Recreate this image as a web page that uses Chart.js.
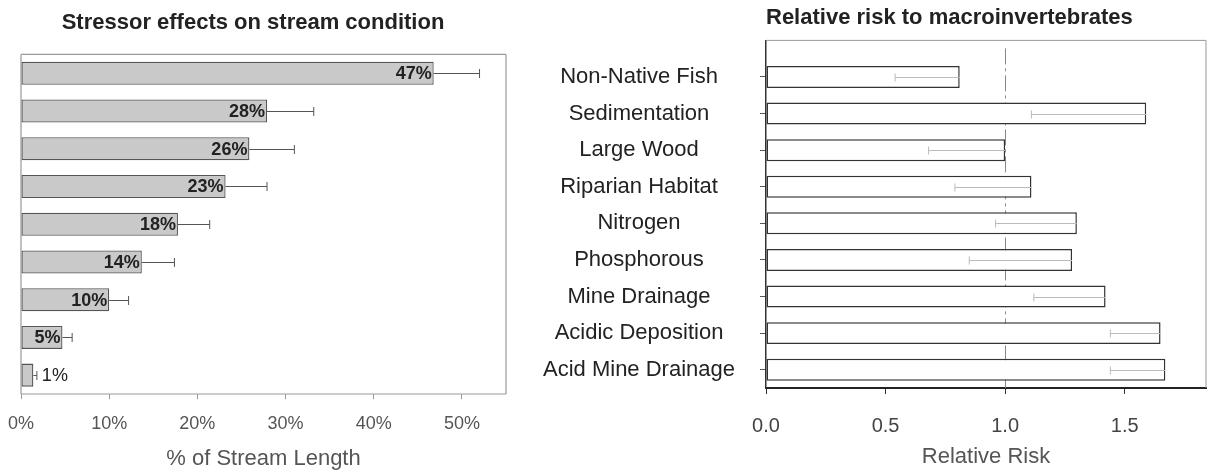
<!DOCTYPE html>
<html>
<head>
<meta charset="utf-8">
<script src="https://cdn.jsdelivr.net/npm/chart.js@4.4.1/dist/chart.umd.min.js"></script>
<style>
body { margin: 0; background: #fff; width: 1208px; height: 472px; overflow: hidden; position: relative; }
canvas { position: absolute; top: 0; }
#lengthChart { left: 0; }
#riskChart { left: 520px; }
</style>
</head>
<body>
<canvas id="lengthChart" width="526" height="472"></canvas>
<canvas id="riskChart" width="688" height="472"></canvas>
<script>
// left panel: % of stream length in poor condition per stressor
var stressRows = ['r1', 'r2', 'r3', 'r4', 'r5', 'r6', 'r7', 'r8', 'r9'];
var stressPct = [46.8, 27.9, 25.9, 23.2, 17.8, 13.7, 10.0, 4.7, 1.4];
var stressUpper = [52.0, 33.2, 31.0, 27.9, 21.4, 17.4, 12.2, 5.8, 1.8];
var stressText = ['47%', '28%', '26%', '23%', '18%', '14%', '10%', '5%', '1%'];
var pctTicks = [0, 10, 20, 30, 40, 50];

// right panel: relative risk
var stressors = ['Non-Native Fish', 'Sedimentation', 'Large Wood', 'Riparian Habitat', 'Nitrogen',
                 'Phosphorous', 'Mine Drainage', 'Acidic Deposition', 'Acid Mine Drainage'];
var riskValue = [0.81, 1.59, 1.00, 1.11, 1.30, 1.28, 1.42, 1.65, 1.67];
var riskLower = [0.54, 1.11, 0.68, 0.79, 0.96, 0.85, 1.12, 1.44, 1.44];
var riskTicks = [0, 0.5, 1.0, 1.5];
var riskRef = 1.0;

var fontFam = "'Liberation Sans', Arial, sans-serif";
Chart.defaults.font.family = fontFam;
Chart.defaults.animation = false;

// border lines round the plot area
var frame = {
    id: 'frame',
    beforeDatasetsDraw: function(chart, args, opts) {
        var a = chart.chartArea, ctx = chart.ctx;
        ctx.save();
        ctx.strokeStyle = opts.color;
        ctx.lineWidth = opts.width;
        ctx.beginPath();
        opts.sides.forEach(function(s) {
            if (s == 'top') { ctx.moveTo(a.left, a.top); ctx.lineTo(a.right, a.top); }
            if (s == 'right') { ctx.moveTo(a.right, a.top); ctx.lineTo(a.right, a.bottom); }
            if (s == 'bottom') { ctx.moveTo(a.left, a.bottom); ctx.lineTo(a.right, a.bottom); }
            if (s == 'left') { ctx.moveTo(a.left, a.top); ctx.lineTo(a.left, a.bottom); }
        });
        ctx.stroke();
        ctx.restore();
    }
};

// one-sided error bars
var whiskers = {
    id: 'whiskers',
    afterDatasetsDraw: function(chart, args, opts) {
        var ctx = chart.ctx, x = chart.scales.x;
        var bars = chart.getDatasetMeta(0).data;
        ctx.save();
        ctx.strokeStyle = opts.color;
        ctx.lineWidth = 1;
        opts.from.forEach(function(v, i) {
            var py = Math.round(bars[i].y) + 0.5;
            var x0 = x.getPixelForValue(v), x1 = x.getPixelForValue(opts.to[i]);
            var cx = opts.capAt == 'from' ? x0 : x1;
            ctx.beginPath();
            ctx.moveTo(x0, py); ctx.lineTo(x1, py);
            ctx.moveTo(cx, py - opts.cap); ctx.lineTo(cx, py + opts.cap);
            ctx.stroke();
        });
        ctx.restore();
    }
};

// % labels at the end of the bars
var barText = {
    id: 'barText',
    afterDatasetsDraw: function(chart, args, opts) {
        var ctx = chart.ctx, x = chart.scales.x;
        var bars = chart.getDatasetMeta(0).data;
        ctx.save();
        ctx.fillStyle = '#222';
        ctx.textBaseline = 'middle';
        opts.text.forEach(function(t, i) {
            var b = bars[i];
            ctx.font = 'bold 18px ' + fontFam;
            var w = ctx.measureText(t).width;
            if (b.x - b.base > w + 4) {
                ctx.textAlign = 'right';
                ctx.fillText(t, b.x - 2, b.y + 1);
            } else {
                ctx.font = '18px ' + fontFam;
                ctx.textAlign = 'left';
                ctx.fillText(t, x.getPixelForValue(opts.upper[i]) + 5, b.y + 1);
            }
        });
        ctx.restore();
    }
};

// dash-dot reference line
var refLine = {
    id: 'refLine',
    beforeDatasetsDraw: function(chart, args, opts) {
        var ctx = chart.ctx, a = chart.chartArea;
        var px = Math.round(chart.scales.x.getPixelForValue(opts.value)) + 0.5;
        ctx.save();
        ctx.strokeStyle = '#888';
        ctx.lineWidth = 1;
        ctx.setLineDash([16, 4, 3, 4]);
        ctx.beginPath();
        ctx.moveTo(px, a.top + 8);
        ctx.lineTo(px, a.bottom);
        ctx.stroke();
        ctx.restore();
    }
};

var lengthChart = new Chart(document.getElementById('lengthChart'), {
    type: 'bar',
    plugins: [frame, whiskers, barText],
    data: {
        labels: stressRows,
        datasets: [{
            data: stressPct,
            backgroundColor: '#c9c9c9',
            borderColor: '#555',
            borderWidth: 1.3,
            borderSkipped: false,
            categoryPercentage: 1,
            barPercentage: 0.61
        }]
    },
    options: {
        indexAxis: 'y',
        responsive: false,
        layout: { padding: { left: 0, right: 20, top: 0, bottom: 0 } },
        plugins: {
            legend: { display: false },
            tooltip: { enabled: false },
            title: {
                display: true,
                text: 'Stressor effects on stream condition',
                color: '#222',
                font: { size: 22, weight: 'bold' },
                padding: { top: 10, bottom: 18 }
            },
            frame: { color: '#999', width: 1.2, sides: ['top', 'right', 'bottom', 'left'] },
            whiskers: { from: stressPct, to: stressUpper, capAt: 'to', cap: 4.5, color: '#555' },
            barText: { text: stressText, upper: stressUpper }
        },
        scales: {
            x: {
                min: 0,
                max: 55,
                afterBuildTicks: function(s) { s.ticks = pctTicks.map(function(v) { return { value: v }; }); },
                afterFit: function(s) { s.height = 78; s.paddingLeft = 0; s.paddingRight = 0; },
                border: { display: false },
                grid: { drawOnChartArea: false, tickLength: 5, color: '#999' },
                ticks: {
                    color: '#555',
                    padding: 14,
                    font: { size: 18 },
                    callback: function(v) { return v + '%'; }
                },
                title: {
                    display: true,
                    text: '% of Stream Length',
                    color: '#555',
                    font: { size: 22 },
                    padding: { top: 0, bottom: 0 }
                }
            },
            y: {
                afterFit: function(s) { s.width = 21; },
                border: { display: false },
                grid: { display: false },
                ticks: { display: false }
            }
        }
    }
});

var riskChart = new Chart(document.getElementById('riskChart'), {
    type: 'bar',
    plugins: [frame, refLine, whiskers],
    data: {
        datasets: [{
            data: riskValue.map(function(v, i) { return { x: v, y: i }; }),
            backgroundColor: '#fff',
            borderColor: '#333',
            borderWidth: 1.5,
            borderSkipped: false,
            categoryPercentage: 1,
            barPercentage: 0.6
        }]
    },
    options: {
        indexAxis: 'y',
        responsive: false,
        layout: { padding: { left: 0, right: 2, top: 0, bottom: 0 } },
        plugins: {
            legend: { display: false },
            tooltip: { enabled: false },
            title: {
                display: true,
                text: 'Relative risk to macroinvertebrates',
                color: '#222',
                align: 'start',
                fullSize: false,
                font: { size: 22, weight: 'bold' },
                padding: { top: 5, bottom: 9 }
            },
            frame: { color: '#999', width: 1, sides: ['top', 'right'] },
            refLine: { value: riskRef },
            whiskers: { from: riskLower, to: riskValue, capAt: 'from', cap: 4, color: '#bbb' }
        },
        scales: {
            x: {
                type: 'linear',
                min: 0,
                max: 1.84,
                afterBuildTicks: function(s) { s.ticks = riskTicks.map(function(v) { return { value: v }; }); },
                afterFit: function(s) { s.height = 84; },
                border: { color: '#222', width: 2 },
                grid: { drawOnChartArea: false, tickLength: 6, color: '#333' },
                ticks: {
                    color: '#444',
                    padding: 20,
                    font: { size: 20 },
                    callback: function(v) { return v.toFixed(1); }
                },
                title: {
                    display: true,
                    text: 'Relative Risk',
                    color: '#555',
                    font: { size: 22 },
                    padding: { top: 0, bottom: 2 }
                }
            },
            y: {
                type: 'linear',
                reverse: true,
                offset: false,
                min: -1,
                max: 8.5,
                afterBuildTicks: function(s) { s.ticks = stressors.map(function(n, i) { return { value: i }; }); },
                afterFit: function(s) { s.width = 246; },
                border: { color: '#333', width: 1.5 },
                grid: { offset: false, drawOnChartArea: false, tickLength: 6, color: '#555' },
                ticks: {
                    color: '#222',
                    padding: 25,
                    crossAlign: 'center',
                    font: { size: 22 },
                    callback: function(v) { return stressors[v]; }
                }
            }
        }
    }
});
</script>
</body>
</html>
